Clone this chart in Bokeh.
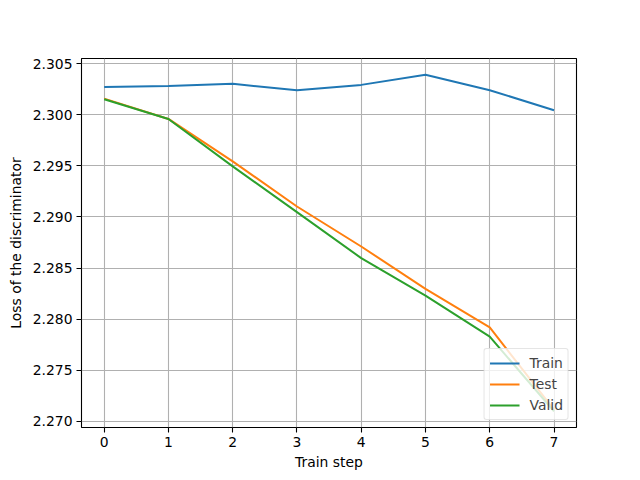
from bokeh.plotting import figure
from bokeh.models import Range1d, FixedTicker, PrintfTickFormatter, Legend, LegendItem
from bokeh.embed import file_html
from bokeh.resources import INLINE

steps = [0, 1, 2, 3, 4, 5, 6, 7]
train = [2.30271, 2.30281, 2.30301, 2.30239, 2.30291, 2.30390, 2.30239, 2.30043]
test = [2.30157, 2.29958, 2.29543, 2.29102, 2.28711, 2.28296, 2.27920, 2.27115]
valid = [2.30150, 2.29958, 2.29494, 2.29047, 2.28597, 2.28231, 2.27829, 2.27100]
x_ticks = [0, 1, 2, 3, 4, 5, 6, 7]
y_ticks = [2.270, 2.275, 2.280, 2.285, 2.290, 2.295, 2.300, 2.305]

FONT = "DejaVu Sans"

p = figure(output_backend="svg", toolbar_location=None,
           frame_width=495, frame_height=369,
           x_range=Range1d(-0.353, 7.35), y_range=Range1d(2.26941, 2.30549),
           min_border_left=81, min_border_top=58, min_border_right=50, min_border_bottom=45)

p.outline_line_color = "black"
p.outline_line_width = 1.1
p.background_fill_color = "white"
p.border_fill_color = "white"

for ax in (p.xaxis[0], p.yaxis[0]):
    ax.major_label_text_font = FONT
    ax.major_label_text_font_size = "13.9px"
    ax.major_label_text_color = "black"
    ax.axis_label_text_font = FONT
    ax.axis_label_text_font_size = "13.9px"
    ax.axis_label_text_font_style = "normal"
    ax.axis_label_text_color = "black"
    ax.major_tick_out = 5
    ax.major_tick_in = 0
    ax.minor_tick_out = 0
    ax.minor_tick_in = 0
    ax.axis_line_color = None
    ax.major_tick_line_color = "black"
    ax.major_tick_line_width = 1.1
    ax.major_label_standoff = 4

p.xaxis[0].ticker = FixedTicker(ticks=x_ticks)
p.yaxis[0].ticker = FixedTicker(ticks=y_ticks)
p.yaxis[0].formatter = PrintfTickFormatter(format="%.3f")
p.xaxis.axis_label = "Train step"
p.yaxis.axis_label = "Loss of the discriminator"
p.xaxis.axis_label_standoff = 4
p.yaxis.axis_label_standoff = 6

p.grid.grid_line_color = "#b0b0b0"
p.grid.grid_line_width = 1.1

r1 = p.line(steps, train, line_color="#1f77b4", line_width=2)
r2 = p.line(steps, test, line_color="#ff7f0e", line_width=2)
r3 = p.line(steps, valid, line_color="#2ca02c", line_width=2)

legend = Legend(items=[LegendItem(label="Train", renderers=[r1]),
                       LegendItem(label="Test", renderers=[r2]),
                       LegendItem(label="Valid", renderers=[r3])],
                location="bottom_right")
legend.margin = 7
legend.padding = 5
legend.spacing = 3
legend.label_height = 18
legend.glyph_height = 18
legend.glyph_width = 30
legend.label_standoff = 10
legend.label_text_font = FONT
legend.label_text_font_size = "13.9px"
legend.border_line_color = "#cccccc"
legend.border_line_width = 1
legend.background_fill_alpha = 0.8
legend.border_radius = 3
p.add_layout(legend, "center")

open("out.html", "w").write(file_html(p, INLINE))
